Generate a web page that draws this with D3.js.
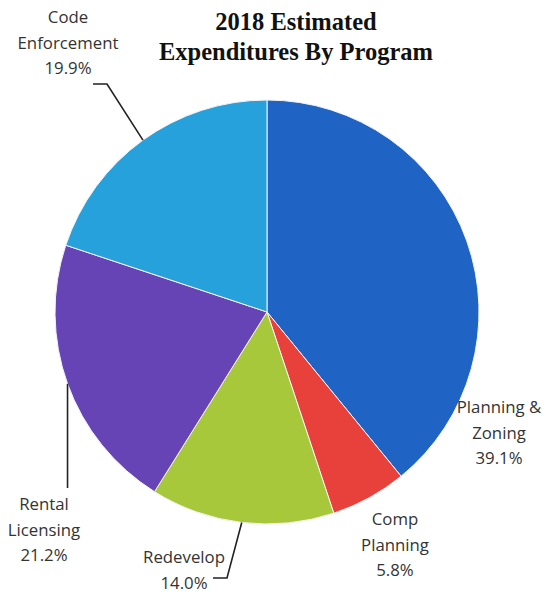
<!DOCTYPE html>
<html>
<head>
<meta charset="utf-8">
<script src="https://cdn.jsdelivr.net/npm/d3@7"></script>
<style>
  html, body { margin: 0; padding: 0; background: #fff; }
  svg { display: block; }
</style>
</head>
<body>
<svg id="chart" width="546" height="595"></svg>
<script>
// Program categories and their share of 2018 estimated expenditures (%)
const programs = ["Planning & Zoning", "Comp Planning", "Redevelop", "Rental Licensing", "Code Enforcement"];
const shares = [39.1, 5.8, 14.0, 21.2, 19.9];
const labelLines = [["Planning &", "Zoning"], ["Comp", "Planning"], ["Redevelop"], ["Rental", "Licensing"], ["Code", "Enforcement"]];
const colors = ["#1f63c5", "#e8403b", "#a7c83b", "#6744b5", "#27a1dc"];

// Label layout: anchor of the first text line, and optional leader path
const labelLayout = [
  { x: 499, y: 413, leader: null },
  { x: 395, y: 525, leader: null },
  { x: 184, y: 563, leader: "redevelop" },
  { x: 44,  y: 510, leader: "rental" },
  { x: 68,  y: 23,  leader: "code" }
];

const width = 546, height = 595;
const cx = 267, cy = 312, radius = 212;
const lineH = 25.5;

const svg = d3.select("#chart");

// Title
const title = svg.append("text")
  .attr("text-anchor", "middle")
  .attr("font-family", "'Liberation Serif', 'Times New Roman', serif")
  .attr("font-weight", "bold")
  .attr("font-size", 24.5)
  .attr("fill", "#111");
title.append("tspan").attr("x", 296).attr("y", 30).text("2018 Estimated");
title.append("tspan").attr("x", 296).attr("y", 60).text("Expenditures By Program");

const data = programs.map((p, i) => ({ program: p, share: shares[i], color: colors[i], lines: labelLines[i], layout: labelLayout[i] }));

const pie = d3.pie().sort(null).value(d => d.share);
const arc = d3.arc().innerRadius(0).outerRadius(radius);
const arcs = pie(data);

const g = svg.append("g").attr("transform", `translate(${cx},${cy})`);

g.selectAll("path.slice")
  .data(arcs)
  .join("path")
  .attr("class", "slice")
  .attr("d", arc)
  .attr("fill", d => d.data.color)
  .attr("stroke", "#f4f4f4")
  .attr("stroke-width", 1);

// Point on the rim at the slice's mid-angle (absolute coords)
function rimPoint(d) {
  const a = (d.startAngle + d.endAngle) / 2;
  return [cx + radius * Math.sin(a), cy - radius * Math.cos(a)];
}

// Leader lines
const leaderShapes = {
  code: (p) => [p, [107, 84], [93, 84]],
  rental: (p) => [p, [p[0], 488]],
  redevelop: (p) => [p, [227, 578], [213, 578]]
};
const line = d3.line();
svg.selectAll("path.leader")
  .data(arcs.filter(d => d.data.layout.leader))
  .join("path")
  .attr("class", "leader")
  .attr("d", d => line(leaderShapes[d.data.layout.leader](rimPoint(d))))
  .attr("fill", "none")
  .attr("stroke", "#222")
  .attr("stroke-width", 1.6);

// Category labels with percentages
const labels = svg.selectAll("text.label")
  .data(arcs)
  .join("text")
  .attr("class", "label")
  .attr("text-anchor", "middle")
  .attr("font-family", "'Open Sans', 'Noto Sans', sans-serif")
  .attr("font-size", 16.8)
  .attr("fill", "#333");

labels.each(function(d) {
  const t = d3.select(this);
  const L = d.data.layout;
  const rows = d.data.lines.concat([d3.format(".1f")(d.data.share) + "%"]);
  rows.forEach((r, i) => {
    t.append("tspan").attr("x", L.x).attr("y", L.y + i * lineH).text(r);
  });
});
</script>
</body>
</html>
